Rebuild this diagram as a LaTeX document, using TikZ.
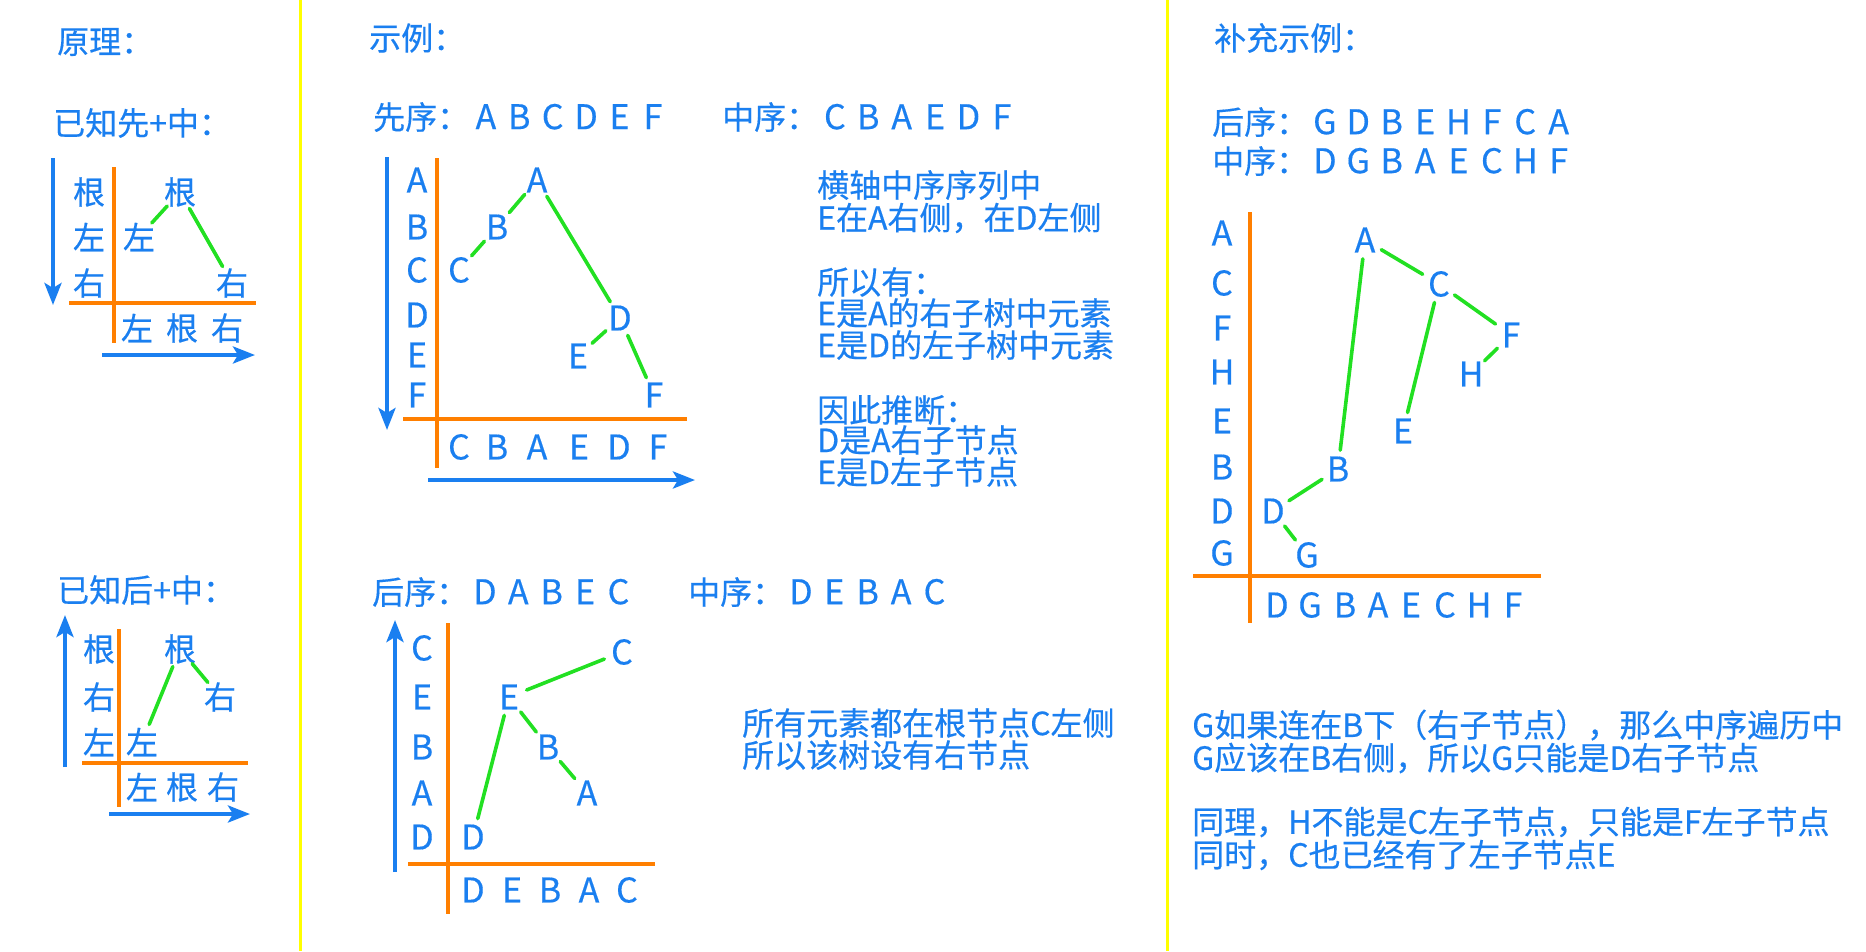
\documentclass[tikz,border=0pt]{standalone}
\usepackage{fontspec}
\setmainfont{Noto Sans CJK SC}[FakeBold=0.4]
\usetikzlibrary{arrows.meta}
\definecolor{tblue}{HTML}{1A7FF0}
\definecolor{torange}{HTML}{FF7F00}
\definecolor{tgreen}{HTML}{22E022}
\definecolor{tyellow}{HTML}{FFFF00}
\newcommand\seqbox[1]{\makebox[33.4pt]{\fontsize{34}{34}\selectfont #1}}
\begin{document}
\begin{tikzpicture}[x=1pt,y=-1pt,
  txt/.style={inner sep=0pt,text=tblue,font=\fontsize{32}{33}\selectfont},
  tl/.style={txt,anchor=west},
  lbl/.style={txt,anchor=center},
  let/.style={lbl,font=\fontsize{34}{34}\selectfont},
  edge/.style={draw=tgreen,line width=3.6pt,line cap=round,shorten <=19pt,shorten >=19pt},
  axis/.style={draw=torange,line width=3.6pt},
  arr/.style={draw=tblue,line width=4pt,-{Stealth[length=22pt,width=17pt,inset=5pt]}},
  divider/.style={draw=tyellow,line width=3pt}]
\useasboundingbox (0,0) rectangle (1866,951);
\fill[white] (0,0) rectangle (1866,951);
% dividers
\coordinate (d1a) at (300,0); \coordinate (d1b) at (300,951);
\coordinate (d2a) at (1167,0); \coordinate (d2b) at (1167,951);
\draw[divider] (d1a) -- (d1b);
\draw[divider] (d2a) -- (d2b);

% ================= Panel 1 upper =================
\node[tl] (h1) at (57,42) {原理：};
\node[tl] (h2) at (53,123) {已知先+中：};
\coordinate (p1a1) at (53,158); \coordinate (p1a2) at (53,305);
\coordinate (p1b1) at (102,355); \coordinate (p1b2) at (255,355);
\coordinate (p1v1) at (114,167); \coordinate (p1v2) at (114,343);
\coordinate (p1h1) at (69,303); \coordinate (p1h2) at (256,303);
\draw[arr] (p1a1) -- (p1a2);
\draw[arr] (p1b1) -- (p1b2);
\draw[axis] (p1v1) -- (p1v2);
\draw[axis] (p1h1) -- (p1h2);
\node[lbl] (p1y1) at (89,192) {根};
\node[lbl] (p1y2) at (89,237) {左};
\node[lbl] (p1y3) at (89,283) {右};
\node[lbl] (p1r) at (180,192) {根};
\node[lbl] (p1l) at (139,237) {左};
\node[lbl] (p1t) at (232,283) {右};
\node[lbl] (p1x1) at (137,328) {左};
\node[lbl] (p1x2) at (182,328) {根};
\node[lbl] (p1x3) at (227,328) {右};
\draw[edge] (p1r.center) -- (p1l.center);
\draw[edge] (p1r.center) -- (p1t.center);

% ================= Panel 1 lower =================
\node[tl] (h3) at (57,590) {已知后+中：};
\coordinate (q1a1) at (65,767); \coordinate (q1a2) at (65,615);
\coordinate (q1b1) at (109,814); \coordinate (q1b2) at (250,814);
\coordinate (q1v1) at (119,629); \coordinate (q1v2) at (119,807);
\coordinate (q1h1) at (82,763); \coordinate (q1h2) at (248,763);
\draw[arr] (q1a1) -- (q1a2);
\draw[arr] (q1b1) -- (q1b2);
\draw[axis] (q1v1) -- (q1v2);
\draw[axis] (q1h1) -- (q1h2);
\node[lbl] (q1y1) at (99,649) {根};
\node[lbl] (q1y2) at (99,697) {右};
\node[lbl] (q1y3) at (99,742) {左};
\node[lbl] (q1r) at (180,649) {根};
\node[lbl] (q1t) at (220,697) {右};
\node[lbl] (q1l) at (142,742) {左};
\node[lbl] (q1x1) at (142,787) {左};
\node[lbl] (q1x2) at (182,787) {根};
\node[lbl] (q1x3) at (223,787) {右};
\draw[edge] (q1r.center) -- (q1l.center);
\draw[edge] (q1r.center) -- (q1t.center);

% ================= Panel 2 upper =================
\node[tl] (h4) at (369,38) {示例：};
\node[tl] (s1) at (373,117) {先序：\seqbox{A}\seqbox{B}\seqbox{C}\seqbox{D}\seqbox{E}\seqbox{F}};
\node[tl] (s2) at (722,117) {中序：\seqbox{C}\seqbox{B}\seqbox{A}\seqbox{E}\seqbox{D}\seqbox{F}};
\coordinate (p2a1) at (387,157); \coordinate (p2a2) at (387,430);
\coordinate (p2b1) at (428,480); \coordinate (p2b2) at (695,480);
\coordinate (p2v1) at (437,158); \coordinate (p2v2) at (437,468);
\coordinate (p2h1) at (403,419); \coordinate (p2h2) at (687,419);
\draw[arr] (p2a1) -- (p2a2);
\draw[arr] (p2b1) -- (p2b2);
\draw[axis] (p2v1) -- (p2v2);
\draw[axis] (p2h1) -- (p2h2);
\node[let] (p2y1) at (417,180) {A};
\node[let] (p2y2) at (417,227) {B};
\node[let] (p2y3) at (417,270) {C};
\node[let] (p2y4) at (417,315) {D};
\node[let] (p2y5) at (417,355) {E};
\node[let] (p2y6) at (417,395) {F};
\node[let] (p2A) at (537,180) {A};
\node[let] (p2B) at (497,227) {B};
\node[let] (p2C) at (459,270) {C};
\node[let] (p2D) at (620,318) {D};
\node[let] (p2E) at (578,356) {E};
\node[let] (p2F) at (654,395) {F};
\node[let] (p2x1) at (459,447) {C};
\node[let] (p2x2) at (497,447) {B};
\node[let] (p2x3) at (537,447) {A};
\node[let] (p2x4) at (579,447) {E};
\node[let] (p2x5) at (619,447) {D};
\node[let] (p2x6) at (658,447) {F};
\draw[edge] (p2A.center) -- (p2B.center);
\draw[edge] (p2B.center) -- (p2C.center);
\draw[edge] (p2A.center) -- (p2D.center);
\draw[edge] (p2D.center) -- (p2E.center);
\draw[edge] (p2D.center) -- (p2F.center);
\node[tl] (t1) at (817,185) {横轴中序序列中};
\node[tl] (t2) at (817,218) {E在A右侧，在D左侧};
\node[tl] (t3) at (817,282) {所以有：};
\node[tl] (t4) at (817,313) {E是A的右子树中元素};
\node[tl] (t5) at (817,345) {E是D的左子树中元素};
\node[tl] (t6) at (817,410) {因此推断：};
\node[tl] (t7) at (817,440) {D是A右子节点};
\node[tl] (t8) at (817,472) {E是D左子节点};

% ================= Panel 2 lower =================
\node[tl] (s3) at (372,592) {后序：\seqbox{D}\seqbox{A}\seqbox{B}\seqbox{E}\seqbox{C}};
\node[tl] (s4) at (688,592) {中序：\seqbox{D}\seqbox{E}\seqbox{B}\seqbox{A}\seqbox{C}};
\coordinate (q2a1) at (395,872); \coordinate (q2a2) at (395,620);
\coordinate (q2v1) at (448,623); \coordinate (q2v2) at (448,914);
\coordinate (q2h1) at (408,864); \coordinate (q2h2) at (655,864);
\draw[arr] (q2a1) -- (q2a2);
\draw[axis] (q2v1) -- (q2v2);
\draw[axis] (q2h1) -- (q2h2);
\node[let] (q2y1) at (422,648) {C};
\node[let] (q2y2) at (422,697) {E};
\node[let] (q2y3) at (422,747) {B};
\node[let] (q2y4) at (422,793) {A};
\node[let] (q2y5) at (422,837) {D};
\node[let] (q2C) at (622,652) {C};
\node[let] (q2E) at (509,697) {E};
\node[let] (q2B) at (548,747) {B};
\node[let] (q2A) at (587,793) {A};
\node[let] (q2D) at (473,837) {D};
\node[let] (q2x1) at (473,890) {D};
\node[let] (q2x2) at (512,890) {E};
\node[let] (q2x3) at (550,890) {B};
\node[let] (q2x4) at (589,890) {A};
\node[let] (q2x5) at (627,890) {C};
\draw[edge] (q2E.center) -- (q2C.center);
\draw[edge] (q2E.center) -- (q2D.center);
\draw[edge] (q2E.center) -- (q2B.center);
\draw[edge] (q2B.center) -- (q2A.center);
\node[tl] (u1) at (742,723) {所有元素都在根节点C左侧};
\node[tl] (u2) at (742,755) {所以该树设有右节点};

% ================= Panel 3 =================
\node[tl] (h5) at (1214,38) {补充示例：};
\node[tl] (s5) at (1212,122) {后序：\seqbox{G}\seqbox{D}\seqbox{B}\seqbox{E}\seqbox{H}\seqbox{F}\seqbox{C}\seqbox{A}};
\node[tl] (s6) at (1212,161) {中序：\seqbox{D}\seqbox{G}\seqbox{B}\seqbox{A}\seqbox{E}\seqbox{C}\seqbox{H}\seqbox{F}};
\coordinate (p3v1) at (1250,212); \coordinate (p3v2) at (1250,623);
\coordinate (p3h1) at (1193,576); \coordinate (p3h2) at (1541,576);
\draw[axis] (p3v1) -- (p3v2);
\draw[axis] (p3h1) -- (p3h2);
\node[let] (p3y1) at (1222,233) {A};
\node[let] (p3y2) at (1222,283) {C};
\node[let] (p3y3) at (1222,328) {F};
\node[let] (p3y4) at (1222,372) {H};
\node[let] (p3y5) at (1222,421) {E};
\node[let] (p3y6) at (1222,467) {B};
\node[let] (p3y7) at (1222,511) {D};
\node[let] (p3y8) at (1222,553) {G};
\node[let] (p3A) at (1365,240) {A};
\node[let] (p3C) at (1439,284) {C};
\node[let] (p3F) at (1511,335) {F};
\node[let] (p3H) at (1471,374) {H};
\node[let] (p3E) at (1403,431) {E};
\node[let] (p3B) at (1338,469) {B};
\node[let] (p3D) at (1273,511) {D};
\node[let] (p3G) at (1307,555) {G};
\node[let] (p3x1) at (1277,605) {D};
\node[let] (p3x2) at (1310,605) {G};
\node[let] (p3x3) at (1345,605) {B};
\node[let] (p3x4) at (1378,605) {A};
\node[let] (p3x5) at (1411,605) {E};
\node[let] (p3x6) at (1445,605) {C};
\node[let] (p3x7) at (1479,605) {H};
\node[let] (p3x8) at (1513,605) {F};
\draw[edge] (p3A.center) -- (p3C.center);
\draw[edge] (p3A.center) -- (p3B.center);
\draw[edge] (p3C.center) -- (p3F.center);
\draw[edge] (p3C.center) -- (p3E.center);
\draw[edge] (p3F.center) -- (p3H.center);
\draw[edge] (p3B.center) -- (p3D.center);
\draw[edge] (p3D.center) -- (p3G.center);
\node[tl] (v1) at (1192,725) {G如果连在B下（右子节点），那么中序遍历中};
\node[tl] (v2) at (1192,758) {G应该在B右侧，所以G只能是D右子节点};
\node[tl] (v3) at (1192,822) {同理，H不能是C左子节点，只能是F左子节点};
\node[tl] (v4) at (1192,855) {同时，C也已经有了左子节点E};
\end{tikzpicture}
\end{document}
